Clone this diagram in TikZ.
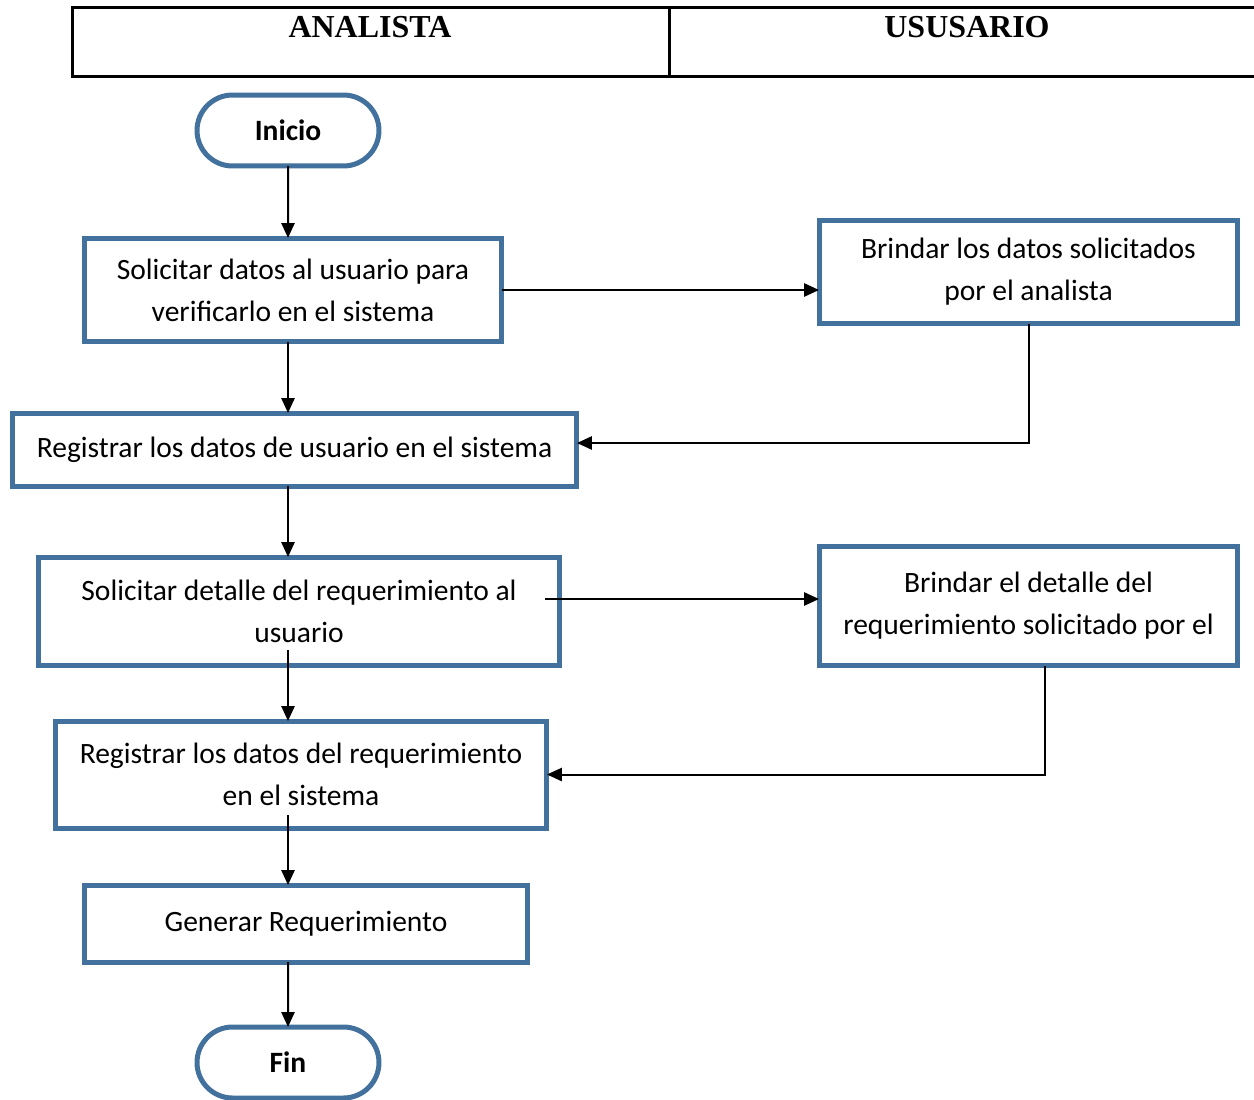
\documentclass[tikz,border=0pt]{standalone}
\usepackage{fontspec}
\setmainfont{Carlito}
\newfontfamily\headfont{Liberation Serif}
\usetikzlibrary{arrows.meta}
\usetikzlibrary{shapes}
\usetikzlibrary{positioning}
\definecolor{boxblue}{RGB}{65,113,156}

\begin{document}
\begin{tikzpicture}[x=0.02cm,y=-0.02cm,font=\fontsize{16.8}{23.9}\selectfont]
	\tikzstyle{box}=[draw=boxblue,fill=white,line width=0.1cm,align=center,inner sep=0pt,outer sep=0pt]
	\tikzstyle{term}=[box,rounded rectangle,minimum width=3.64cm,minimum height=1.42cm,font=\fontsize{16.8}{23.9}\selectfont\bfseries]
	\tikzstyle{arr}=[line width=0.04cm,-{Triangle[length=8.5pt,width=7.5pt]}]
	\useasboundingbox (0,0) rectangle (1254,1099);
	\clip (0,0) rectangle (1254,1099);
	% lanes
	\draw[line width=0.06cm] (72,7) rectangle (1280,76) (669,7) -- (669,76);
	\node[font=\headfont\fontsize{18.2}{20}\selectfont\bfseries] (ana) at (370,27) {ANALISTA};
	\node[font=\headfont\fontsize{18.2}{20}\selectfont\bfseries] (usu) at (967,27) {USUSARIO};
	% analista side
	\node[term] (ini) at (288,130.5) {Inicio};
	\node[box,minimum width=8.36cm,minimum height=2.08cm] (b1) at (293,290) {Solicitar datos al usuario para\\verificarlo en el sistema};
	\node[box,minimum width=11.3cm,minimum height=1.46cm] (b2) at (294.5,449.5) {Registrar los datos de usuario en el sistema};
	\node[box,minimum width=10.44cm,minimum height=2.18cm] (b3) at (299,611.5) {Solicitar detalle del requerimiento al\\usuario};
	\node[box,minimum width=9.84cm,minimum height=2.14cm] (b4) at (301,774.5) {Registrar los datos del requerimiento\\en el sistema};
	\node[box,minimum width=8.88cm,minimum height=1.54cm] (b5) at (306,923.5) {Generar Requerimiento};
	\node[term] (fin) at (288,1062.5) {Fin};
	% usuario side
	\node[box,minimum width=8.38cm,minimum height=2.08cm] (u1) at (1028.5,272) {Brindar los datos solicitados\\por el analista};
	\node[box,minimum width=8.38cm,minimum height=2.4cm] (u2) at (1028.5,606) {Brindar el detalle del\\requerimiento solicitado por el};
	% flow
	\draw[arr] (ini) -- (b1.north -| ini);
	\draw[arr] (b1.east) -- (b1.east -| u1.west);
	\draw[arr] (u1.south) |- ([yshift=0.13cm]b2.east);
	\draw[arr] (b1.south -| ini) -- (b2.north -| ini);
	\draw[arr] (b2.south -| ini) -- (b3.north -| ini);
	\coordinate (p3) at ([xshift=-0.3cm,yshift=0.25cm]b3.east);
	\draw[arr] (p3) -- (p3 -| u2.west);
	\draw[arr] ([xshift=0.33cm]u2.south) |- (b4.east);
	\draw[arr] ([yshift=0.32cm]b3.south -| ini) -- (b4.north -| ini);
	\draw[arr] ([yshift=0.26cm]b4.south -| ini) -- (b5.north -| ini);
	\draw[arr] (b5.south -| ini) -- (fin);
\end{tikzpicture}
\end{document}
